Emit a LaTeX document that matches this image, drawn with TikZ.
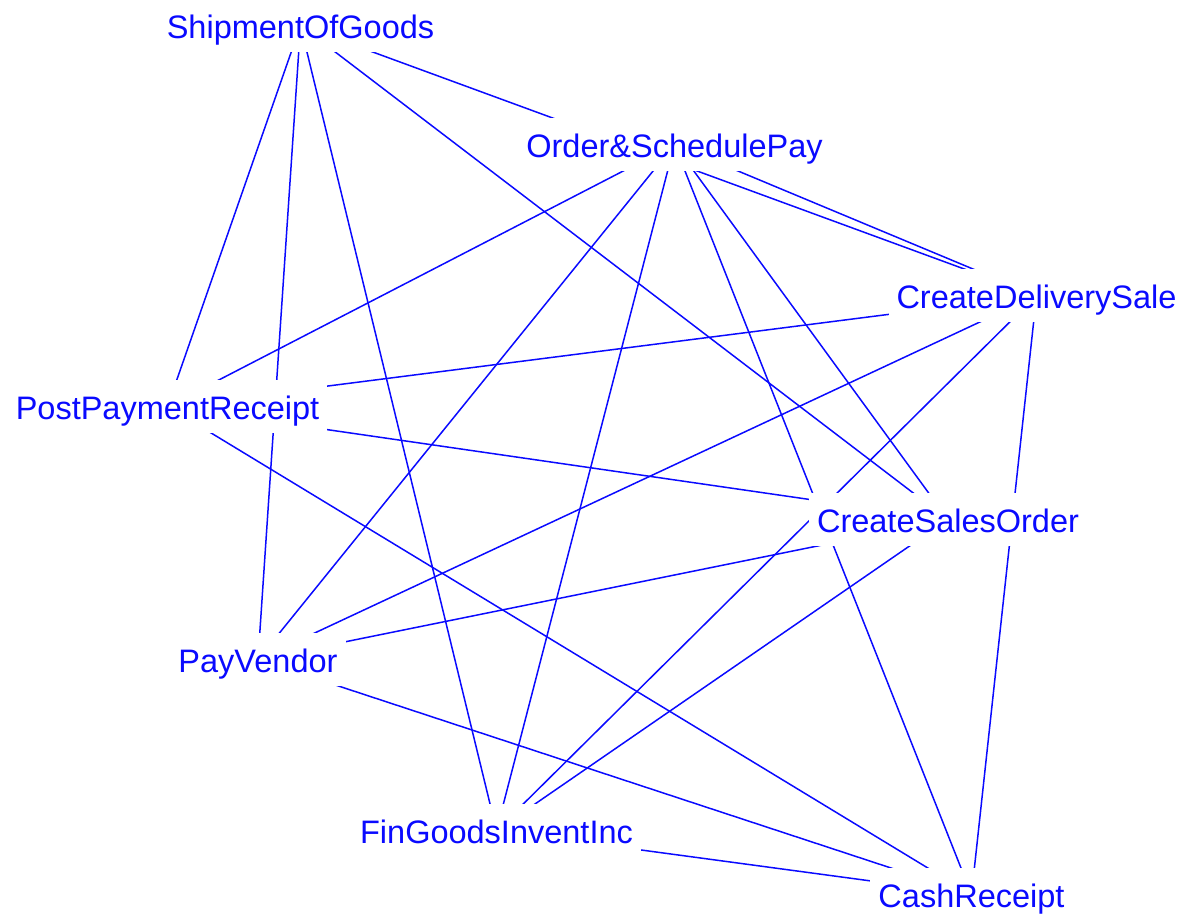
\documentclass[tikz,border=0pt]{standalone}
\usepackage{fontspec}
\setmainfont{Liberation Sans}
\usetikzlibrary{backgrounds}
\definecolor{linkblue}{RGB}{10,10,255}
\tikzset{
  proc/.style={fill=white, text=linkblue, inner xsep=8pt, inner ysep=12pt,
    text height=27pt, text depth=2pt,
    font=\fontsize{32.5}{38}\selectfont},
  link/.style={draw=linkblue, line width=1.5pt}
}
\begin{document}
\begin{tikzpicture}[x=1pt,y=-1pt]
\useasboundingbox (0,0) rectangle (1193,918);

% activities
\node[proc] (ship)  at (300.5,25.5)  {ShipmentOfGoods};
\node[proc] (order) at (674.5,144.5) {Order\&SchedulePay};
\node[proc] (cds)   at (1036.5,295.5) {CreateDeliverySale};
\node[proc] (ppr)   at (167.5,406.5) {PostPaymentReceipt};
\node[proc] (cso)   at (948,519.5)   {CreateSalesOrder};
\node[proc] (pv)    at (258,659.5)   {PayVendor};
\node[proc] (fgi)   at (496.5,830.5) {FinGoodsInventInc};
\node[proc] (cash)  at (971.5,894.5) {CashReceipt};

% links, drawn under the labels
\begin{scope}[on background layer]
  \draw[link] (ship.center) -- (ppr.center);
  \draw[link] (ship.center) -- (pv.center);
  \draw[link] (ship.center) -- (fgi.center);
  \draw[link] (ship.center) -- (cso.center);
  \draw[link] (ship.center) -- (cds.center);
  \draw[link] (order.center) -- (ppr.center);
  \draw[link] (order.center) -- (pv.center);
  \draw[link] (order.center) -- (fgi.center);
  \draw[link] (order.center) -- (cso.center);
  \draw[link] (order.center) -- (cash.center);
  \draw[link] (order.center) -- (cds.center);
  \draw[link] (cds.center) -- (ppr.center);
  \draw[link] (cds.center) -- (pv.center);
  \draw[link] (cds.center) -- (fgi.center);
  \draw[link] (cds.center) -- (cash.center);
  \draw[link] (ppr.center) -- (cso.center);
  \draw[link] (ppr.center) -- (cash.center);
  \draw[link] (cso.center) -- (pv.center);
  \draw[link] (cso.center) -- (fgi.center);
  \draw[link] (pv.center) -- (cash.center);
  \draw[link] (fgi.center) -- (cash.center);
\end{scope}
\end{tikzpicture}
\end{document}
